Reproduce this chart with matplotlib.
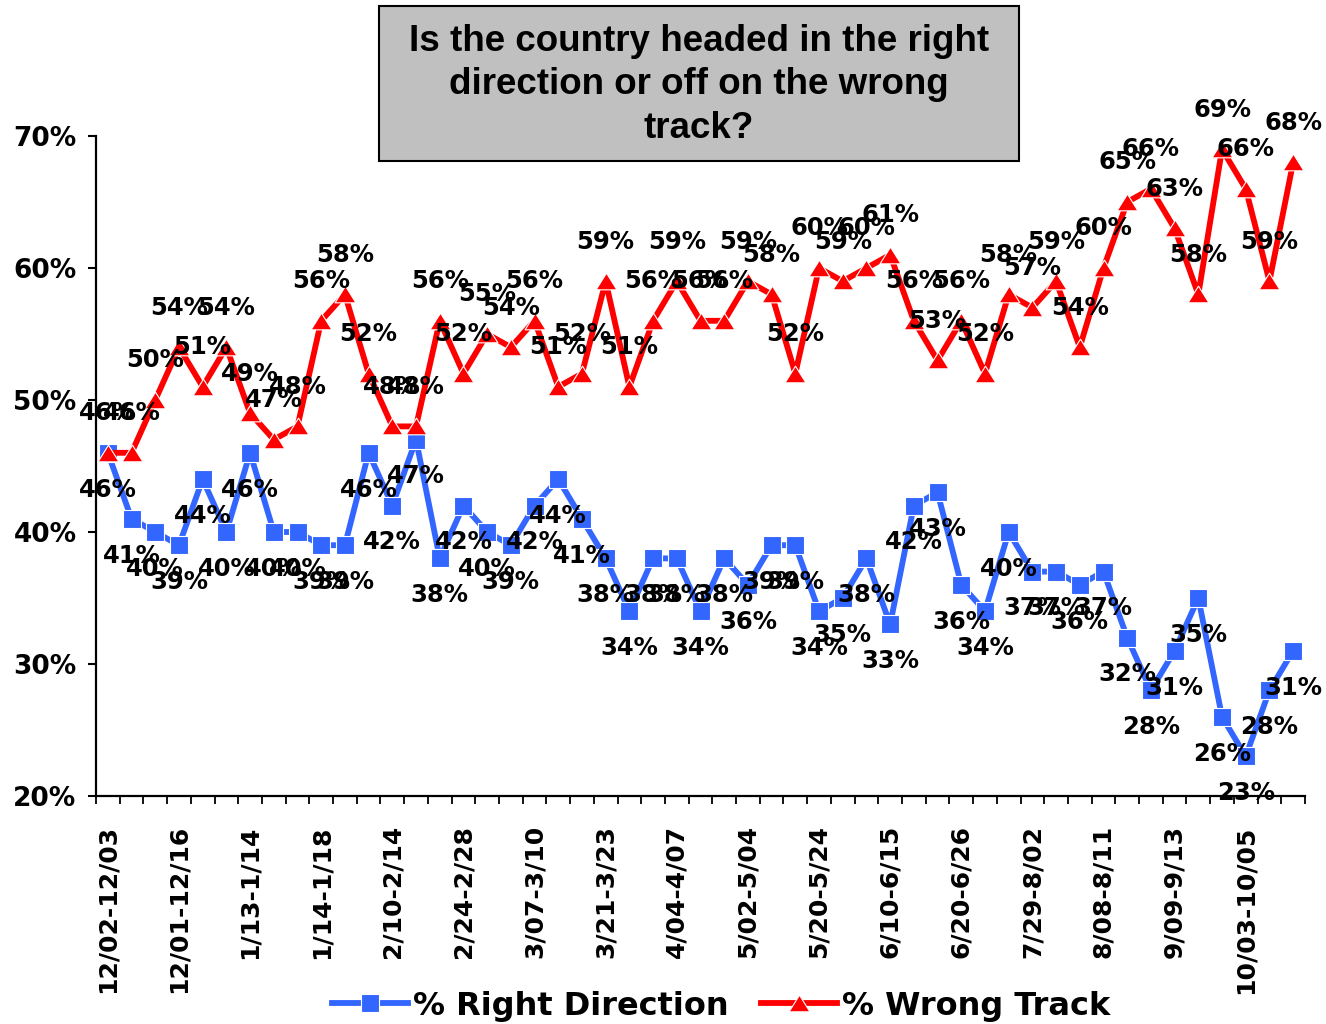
import matplotlib
matplotlib.use("Agg")
import matplotlib.pyplot as plt
from matplotlib.patches import Rectangle
from matplotlib.lines import Line2D
from matplotlib.path import Path
import numpy as np

# ---- data ----
tick_labels = ["12/02-12/03", "12/01-12/16", "1/13-1/14", "1/14-1/18", "2/10-2/14",
               "2/24-2/28", "3/07-3/10", "3/21-3/23", "4/04-4/07", "5/02-5/04",
               "5/20-5/24", "6/10-6/15", "6/20-6/26", "7/29-8/02", "8/08-8/11",
               "9/09-9/13", "10/03-10/05"]
right_direction = [46, 41, 40, 39, 44, 40, 46, 40, 40, 39, 39, 46, 42, 47, 38, 42, 40,
                   39, 42, 44, 41, 38, 34, 38, 38, 34, 38, 36, 39, 39, 34, 35, 38, 33,
                   42, 43, 36, 34, 40, 37, 37, 36, 37, 32, 28, 31, 35, 26, 23, 28, 31]
wrong_track = [46, 46, 50, 54, 51, 54, 49, 47, 48, 56, 58, 52, 48, 48, 56, 52, 55,
               54, 56, 51, 52, 59, 51, 56, 59, 56, 56, 59, 58, 52, 60, 59, 60, 61,
               56, 53, 56, 52, 58, 57, 59, 54, 60, 65, 66, 63, 58, 69, 66, 59, 68]
y_ticks = [20, 30, 40, 50, 60, 70]
title = "Is the country headed in the right\ndirection or off on the wrong\ntrack?"
series_names = ["% Right Direction", "% Wrong Track"]

BLUE = "#3366FF"
RED = "#FF0000"
LBL = dict(family="DejaVu Sans", fontweight="bold")

W, H = 1326, 1024
fig = plt.figure(figsize=(W / 100, H / 100), dpi=100)
fig.patch.set_facecolor("white")

ax = fig.add_axes([96 / W, 1 - 796 / H, (1305 - 96) / W, (796 - 136) / H])
n = len(right_direction)
x = np.arange(n)

tri = Path([(-1.0, -0.8), (1.0, -0.8), (0.0, 0.8), (-1.0, -0.8)],
           [Path.MOVETO, Path.LINETO, Path.LINETO, Path.CLOSEPOLY])

ax.plot(x, right_direction, color=BLUE, lw=4.2, marker="s", ms=13,
        mfc=BLUE, mec="white", mew=0.8, zorder=3, clip_on=False)
ax.plot(x, wrong_track, color=RED, lw=4.2, marker=tri, ms=15,
        mfc=RED, mec="white", mew=0.8, zorder=3, clip_on=False)

for i, v in enumerate(right_direction):
    ax.annotate(f"{v}%", (i, v), xytext=(0, -26.5), textcoords="offset points",
                ha="center", va="center", fontsize=17.5, color="black",
                annotation_clip=False, zorder=5, **LBL)
for i, v in enumerate(wrong_track):
    ax.annotate(f"{v}%", (i, v), xytext=(0, 28.5), textcoords="offset points",
                ha="center", va="center", fontsize=17.5, color="black",
                annotation_clip=False, zorder=5, **LBL)

ax.set_xlim(-0.5, n - 0.5)
ax.set_ylim(20, 70)

for s in ["top", "right"]:
    ax.spines[s].set_visible(False)
for s in ["left", "bottom"]:
    ax.spines[s].set_linewidth(1.6)
    ax.spines[s].set_color("black")

ax.set_yticks(y_ticks)
ax.set_yticklabels([f"{v}%" for v in y_ticks], fontsize=19, **LBL)
ax.tick_params(axis="y", direction="out", length=6, width=1.5, pad=8)

ax.set_xticks(np.arange(-0.5, n, 1.0))
ax.set_xticklabels([])
ax.tick_params(axis="x", which="major", direction="out", length=6, width=1.3)
ax.set_xticks(np.arange(0, n, 3)[:len(tick_labels)], minor=True)
ax.set_xticklabels(tick_labels, minor=True, rotation=90, fontsize=18, **LBL)
ax.tick_params(axis="x", which="minor", length=0, pad=21)

# title box
fig.patches.append(Rectangle((379 / W, 1 - 161 / H), 640 / W, 155 / H,
                             transform=fig.transFigure, facecolor="#C0C0C0",
                             edgecolor="black", lw=1.5, zorder=0))
fig.text(699 / W, 1 - 85 / H, title, ha="center", va="center", multialignment="center",
         fontsize=26.5, fontweight="bold", family="Liberation Sans", linespacing=1.3)

handles = [Line2D([], [], color=BLUE, lw=4.2, marker="s", ms=13, mfc=BLUE, mec="white", mew=0.8),
           Line2D([], [], color=RED, lw=4.2, marker=tri, ms=15, mfc=RED, mec="white", mew=0.8)]
fig.legend(handles, series_names, loc="center", bbox_to_anchor=(721 / W, 1 - 1006 / H),
           ncol=2, frameon=False, handlelength=2.4, handletextpad=0.15, columnspacing=1.0,
           prop=dict(family="DejaVu Sans", weight="bold", size=23))

fig.savefig("out.png", dpi=100, facecolor="white")
